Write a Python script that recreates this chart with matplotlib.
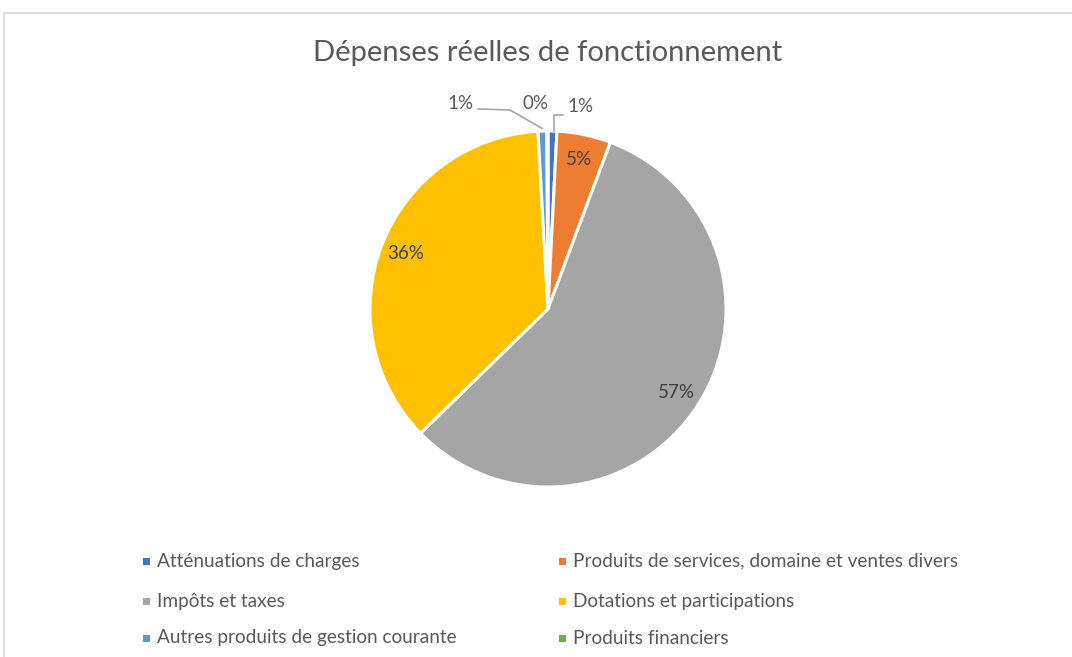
import matplotlib
matplotlib.use("Agg")
import matplotlib.pyplot as plt
from matplotlib.patches import Rectangle
import numpy as np

plt.rcParams['font.family'] = ['Lato', 'DejaVu Sans']

title = "Dépenses réelles de fonctionnement"
categories = ["Atténuations de charges",
              "Produits de services, domaine et ventes divers",
              "Impôts et taxes",
              "Dotations et participations",
              "Autres produits de gestion courante",
              "Produits financiers"]
values = [0.8, 4.9, 57.0, 36.4, 0.8, 0.1]
colors = ["#4472C4", "#ED7D31", "#A5A5A5", "#FFC000", "#5B9BD5", "#70AD47"]
text_color = "#595959"

W, H = 1072, 657
fig = plt.figure(figsize=(W / 100, H / 100), dpi=100)

# chart border
fig.patches.append(Rectangle((4 / W, 1 - 670 / H), (1100 - 4) / W, (670 - 13) / H,
                             transform=fig.transFigure, fill=False,
                             edgecolor="#D9D9D9", linewidth=1.2))

# pie axes: center (548,309) px, radius 178 px
R = 178
cx, cy = 548, 309
lim = 1.3
ax = fig.add_axes([(cx - lim * R) / W, (H - cy - lim * R) / H, 2 * lim * R / W, 2 * lim * R / H])

wedges, _ = ax.pie(values, colors=colors, startangle=90, counterclock=False,
                   radius=1.0, wedgeprops=dict(edgecolor='white', linewidth=2.2))
ax.set_xlim(-lim, lim)
ax.set_ylim(-lim, lim)
ax.set_aspect('equal')
ax.axis('off')

total = sum(values)
pcts = [v / total * 100 for v in values]
mids = []
cum = 0
for v in values:
    a = 90 - (cum + v / 2) / total * 360
    mids.append(np.deg2rad(a))
    cum += v

fs_lab = 13.5
# inside labels
for i in [1, 2, 3]:
    r = 0.86
    ax.text(r * np.cos(mids[i]), r * np.sin(mids[i]), f"{pcts[i]:.0f}%",
            ha='center', va='center', fontsize=fs_lab, color="#404040")

# outside labels with leader lines
lc = "#A6A6A6"
# dark blue (index 0)
x0 = 0.034
ax.plot([x0, x0, 0.084], [1.0, 1.09, 1.09], color=lc, lw=1.2)
ax.text(0.18, 1.135, f"{pcts[0]:.0f}%", ha='center', va='center', fontsize=fs_lab, color=text_color)
# light blue (index 4)
ax.plot([-0.034, -0.213, -0.393], [1.015, 1.118, 1.124], color=lc, lw=1.2)
ax.text(-0.489, 1.157, f"{pcts[4]:.0f}%", ha='center', va='center', fontsize=fs_lab, color=text_color)
# green (index 5)
ax.text(-0.073, 1.157, f"{pcts[5]:.0f}%", ha='center', va='center', fontsize=fs_lab, color=text_color)

# title
fig.text(548 / W, 1 - 53 / H, title, ha='center', va='center', fontsize=21, color=text_color)

# legend (2 columns, 3 rows)
col_x = [146, 562]
row_y = [561, 601, 638]
for i, (cat, col) in enumerate(zip(categories, colors)):
    c, r = i % 2, i // 2
    mx, my = col_x[c], row_y[r]
    fig.patches.append(Rectangle(((mx - 3.5) / W, 1 - (my + 3.5) / H), 7 / W, 7 / H,
                                 transform=fig.transFigure, facecolor=col, edgecolor='none'))
    fig.text((mx + 11) / W, 1 - my / H, cat, ha='left', va='center', fontsize=13.7, color=text_color)

fig.savefig("out.png", dpi=100)
